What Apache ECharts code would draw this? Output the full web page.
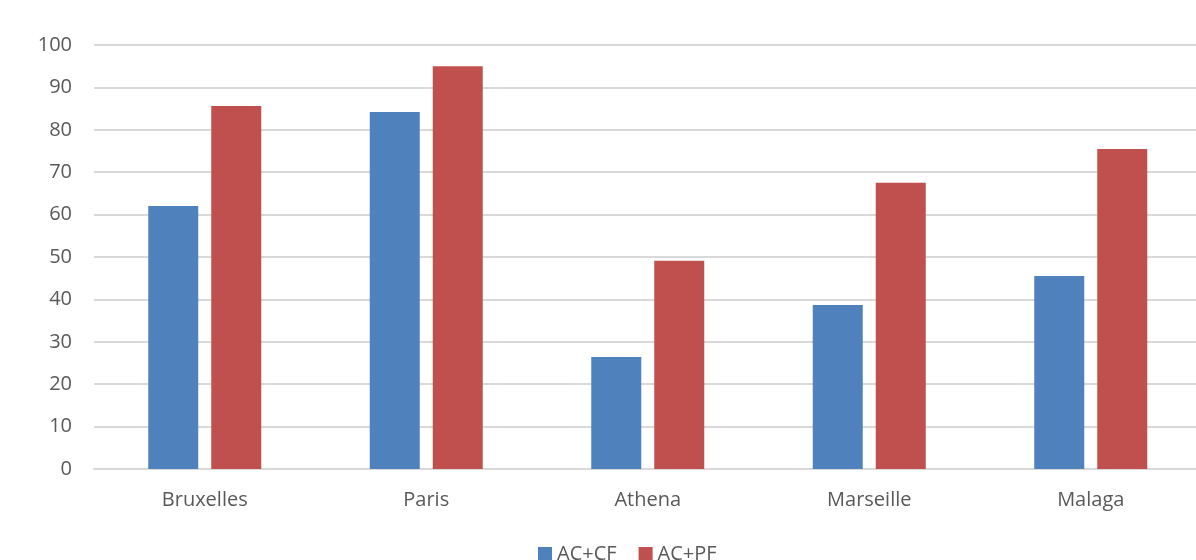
<!DOCTYPE html>
<html>
<head>
<meta charset="utf-8">
<script src="https://cdn.jsdelivr.net/npm/echarts@6/dist/echarts.min.js"></script>
<style>
  html, body { margin: 0; padding: 0; background: #fff; overflow: hidden; }
  #chart { width: 1210px; height: 560px; }
</style>
</head>
<body>
<div id="chart"></div>
<script>
var cities = ['Bruxelles', 'Paris', 'Athena', 'Marseille', 'Malaga']
var acCf = [62.0, 84.2, 26.4, 38.7, 45.5]
var acPf = [85.6, 95.0, 49.1, 67.5, 75.5]
var seriesNames = ['AC+CF', 'AC+PF']

var myChart = echarts.init(document.getElementById('chart'))
var option = {
    animation: false,
    textStyle: { fontFamily: 'Open Sans' },
    grid: { left: 94, right: 8.5, top: 45, bottom: 91 },
    legend: {
        data: seriesNames,
        bottom: -9,
        left: 533,
        itemWidth: 14,
        itemHeight: 14,
        itemGap: 22,
        icon: 'rect',
        textStyle: { color: '#595959', fontSize: 20 }
    },
    xAxis: {
        type: 'category',
        data: cities,
        axisLine: { lineStyle: { color: '#d9d9d9', width: 2 } },
        axisTick: { show: false },
        axisLabel: { color: '#595959', fontSize: 20, margin: 21 }
    },
    yAxis: {
        type: 'value',
        min: 0,
        max: 100,
        interval: 10,
        axisLine: { show: false },
        axisTick: { show: false },
        axisLabel: { color: '#595959', fontSize: 20, margin: 22 },
        splitLine: { lineStyle: { color: '#d9d9d9', width: 2 } }
    },
    series: [
        {
            name: seriesNames[0],
            type: 'bar',
            data: acCf,
            barWidth: 50,
            barGap: '26%',
            itemStyle: { color: '#4F81BD' }
        },
        {
            name: seriesNames[1],
            type: 'bar',
            data: acPf,
            barWidth: 50,
            itemStyle: { color: '#C0504D' }
        }
    ]
}
myChart.setOption(option)
</script>
</body>
</html>
